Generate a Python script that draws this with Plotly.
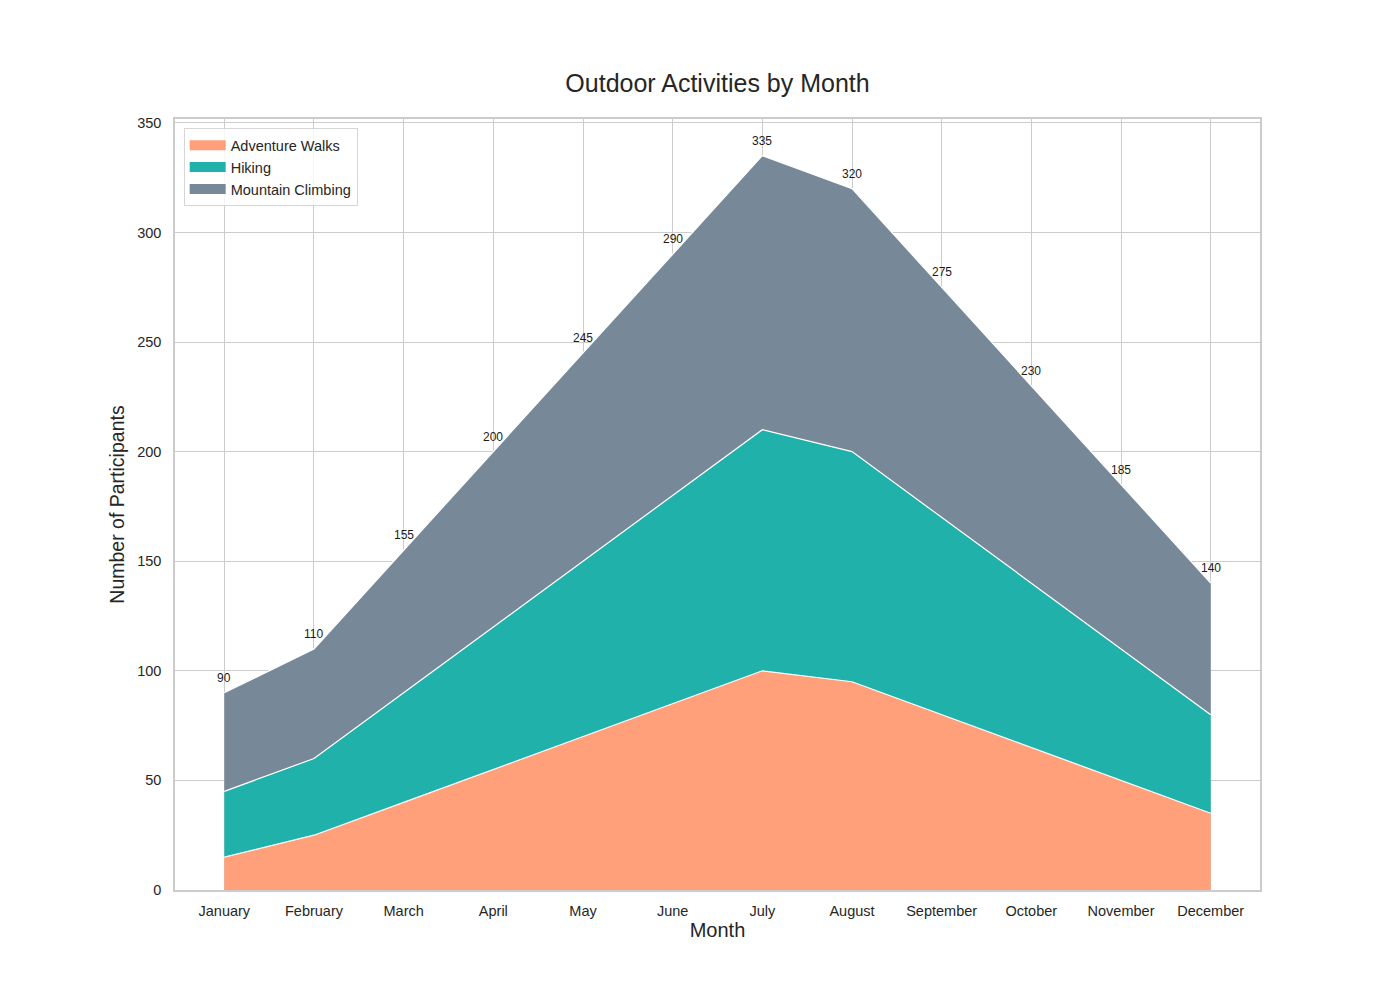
import plotly.graph_objects as go

months = ["January", "February", "March", "April", "May", "June", "July",
          "August", "September", "October", "November", "December"]
adventure_walks = [15, 25, 40, 55, 70, 85, 100, 95, 80, 65, 50, 35]
hiking = [30, 35, 50, 65, 80, 95, 110, 105, 90, 75, 60, 45]
mountain_climbing = [45, 50, 65, 80, 95, 110, 125, 120, 105, 90, 75, 60]
y_ticks = [0, 50, 100, 150, 200, 250, 300, 350]

totals = [a + h + m for a, h, m in zip(adventure_walks, hiking, mountain_climbing)]
xs = list(range(len(months)))

series = [
    ("Adventure Walks", adventure_walks, "#FFA07A"),
    ("Hiking", hiking, "#20B2AA"),
    ("Mountain Climbing", mountain_climbing, "#778899"),
]

fig = go.Figure()
for name, vals, color in series:
    fig.add_trace(go.Scatter(
        x=xs, y=vals, name=name, mode="lines",
        stackgroup="one", fillcolor=color,
        line=dict(color="white", width=1.2), showlegend=False,
    ))
# legend swatches (rectangular patches)
for name, vals, color in series:
    fig.add_trace(go.Scatter(
        x=[None], y=[None], name=name, mode="lines",
        line=dict(color=color, width=10), showlegend=True,
    ))

for x, t in zip(xs, totals):
    fig.add_annotation(x=x, y=t, text=str(t), showarrow=False, yshift=15,
                       font=dict(size=12, color="#1a1a1a"))

font_family = "Liberation Sans, Arial, sans-serif"
fig.update_layout(
    width=1400, height=1000,
    paper_bgcolor="white", plot_bgcolor="white",
    margin=dict(l=167, r=148, t=111, b=118),
    font=dict(family=font_family, color="#262626"),
    title=dict(text="Outdoor Activities by Month", x=(167 + 1085 / 2) / 1400, xanchor="center",
               y=1 - 75 / 1000, yanchor="middle", font=dict(size=25, color="#262626")),
    showlegend=True,
    legend=dict(x=0.008, y=0.988, xanchor="left", yanchor="top",
                bgcolor="rgba(255,255,255,0.8)", bordercolor="#d6d6d6", borderwidth=1,
                font=dict(size=14.5, color="#262626"), traceorder="normal",
                itemwidth=36, tracegroupgap=0),
)
fig.update_xaxes(
    range=[-0.55, 11.55], tickmode="array", tickvals=xs, ticktext=months,
    showgrid=True, gridcolor="#cccccc", gridwidth=1,
    showline=True, linecolor="#cccccc", linewidth=1.5, mirror=True,
    zeroline=False, ticks="", tickfont=dict(size=14.5), ticklabelstandoff=7,
    title=dict(text="Month", font=dict(size=20), standoff=5),
)
fig.update_yaxes(
    range=[0, 351.75], tickmode="array", tickvals=y_ticks,
    showgrid=True, gridcolor="#cccccc", gridwidth=1,
    showline=True, linecolor="#cccccc", linewidth=1.5, mirror=True,
    zeroline=False, ticks="", tickfont=dict(size=14.5), ticklabelstandoff=9,
    title=dict(text="Number of Participants", font=dict(size=19.5), standoff=7),
)

fig.write_html("out.html")
